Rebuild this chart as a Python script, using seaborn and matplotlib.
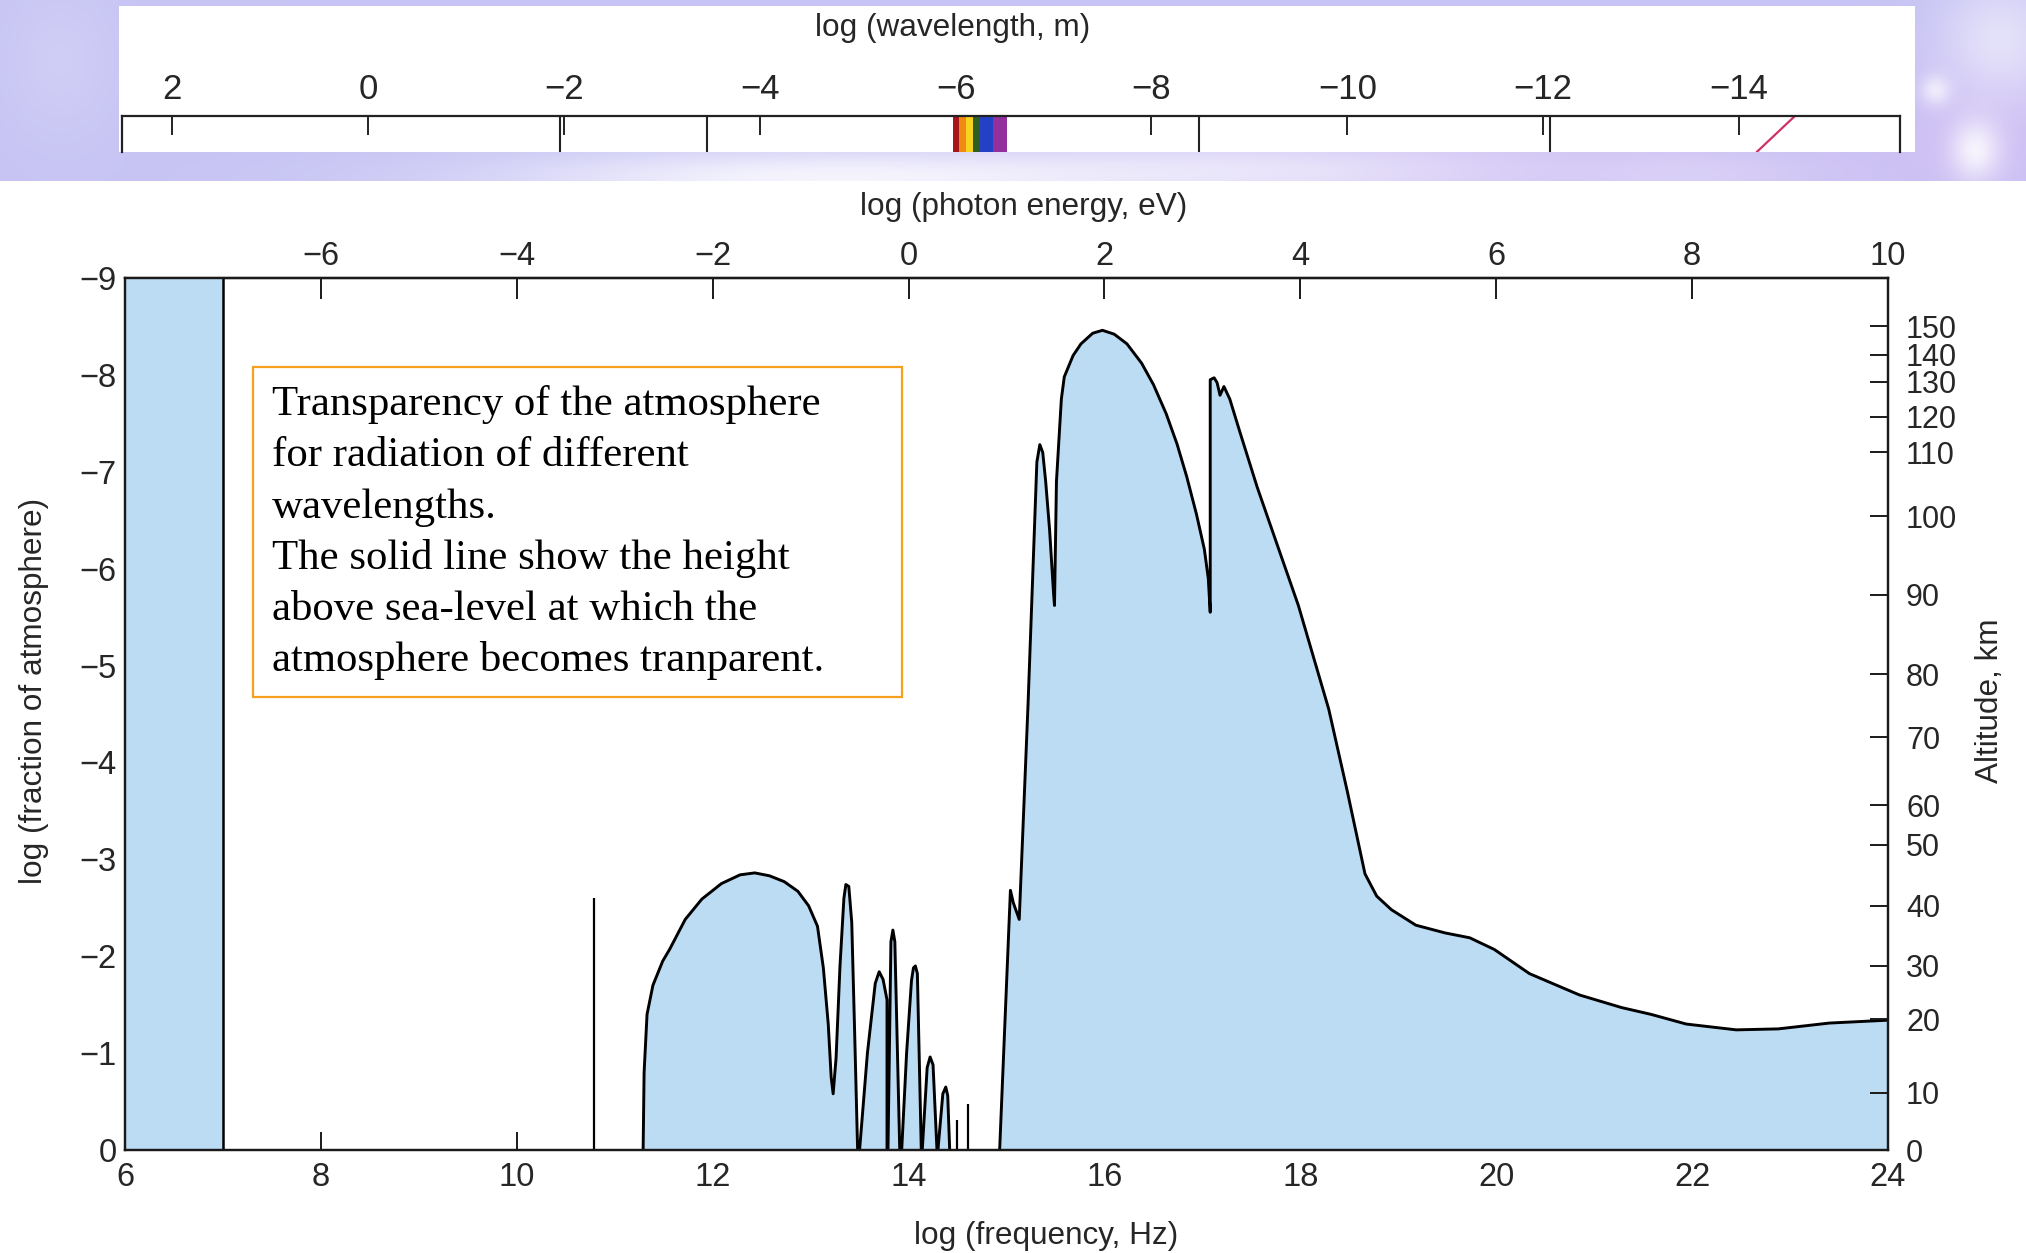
import numpy as np
import matplotlib
matplotlib.use("Agg")
import matplotlib.pyplot as plt
import seaborn as sns
from matplotlib.patches import Rectangle

# ---------------- data ----------------
freq_ticks = [6, 8, 10, 12, 14, 16, 18, 20, 22, 24]
logfrac_ticks = [0, -1, -2, -3, -4, -5, -6, -7, -8, -9]
ev_ticks = [-6, -4, -2, 0, 2, 4, 6, 8, 10]
ev_offset = 14.0
wavelength_ticks = [2, 0, -2, -4, -6, -8, -10, -12, -14]
wavelength_offset = 8.48

altitude_km = [0, 10, 20, 30, 40, 50, 60, 70, 80, 90, 100, 110, 120, 130, 140, 150]
altitude_logfrac = [0, -0.59, -1.35, -1.90, -2.52, -3.15, -3.56, -4.26, -4.91,
                    -5.73, -6.54, -7.20, -7.57, -7.93, -8.21, -8.50]

radio_freq = [6.0, 7.0]
radio_logfrac = [-9.0, -9.0]

spike_freq = [10.79, 14.49, 14.61]
spike_logfrac = [-2.6, -0.31, -0.47]

ir_freq = [11.29, 11.30, 11.33, 11.39, 11.49, 11.56, 11.72, 11.89, 12.09, 12.28, 12.43,
           12.58, 12.73, 12.87, 12.98, 13.07, 13.13, 13.18, 13.21, 13.23, 13.26, 13.30,
           13.34, 13.36, 13.39, 13.42, 13.45, 13.48,
           13.50, 13.58, 13.66, 13.70, 13.74, 13.78, 13.78,
           13.79, 13.82, 13.84, 13.86, 13.91,
           13.93, 13.98, 14.03, 14.05, 14.07, 14.09, 14.13,
           14.14, 14.19, 14.22, 14.25, 14.29,
           14.30, 14.35, 14.38, 14.40, 14.42]
ir_logfrac = [0, -0.8, -1.4, -1.7, -1.95, -2.07, -2.38, -2.59, -2.75, -2.84, -2.86,
              -2.83, -2.77, -2.67, -2.52, -2.31, -1.88, -1.3, -0.75, -0.58, -0.95, -1.9,
              -2.6, -2.74, -2.72, -2.35, -1.2, 0,
              0, -1.0, -1.72, -1.84, -1.76, -1.55, 0,
              0, -2.15, -2.27, -2.15, 0,
              0, -1.0, -1.75, -1.88, -1.9, -1.82, 0,
              0, -0.85, -0.96, -0.88, 0,
              0, -0.58, -0.65, -0.56, 0]

uv_freq = [14.93, 15.04, 15.07, 15.13, 15.22, 15.31, 15.34, 15.37, 15.40, 15.44, 15.48, 15.49,
           15.51, 15.56, 15.59, 15.68, 15.76, 15.88, 15.98, 16.10, 16.23, 16.38, 16.50,
           16.63, 16.74, 16.84, 16.94, 17.02, 17.06, 17.08, 17.08, 17.12, 17.15, 17.18,
           17.22, 17.28, 17.38, 17.56, 17.78, 17.98, 18.29, 18.48, 18.66, 18.78, 18.93,
           19.18, 19.48, 19.73, 19.98, 20.34, 20.85, 21.28, 21.58, 21.94, 22.45, 22.88,
           23.40, 24.00]
uv_logfrac = [0, -2.68, -2.55, -2.38, -4.6, -7.1, -7.28, -7.2, -6.9, -6.4, -5.75, -5.62,
              -6.9, -7.75, -7.98, -8.2, -8.32, -8.43, -8.46, -8.42, -8.32, -8.12, -7.9,
              -7.6, -7.29, -6.95, -6.56, -6.2, -5.9, -5.55, -7.95, -7.97, -7.92, -7.79,
              -7.88, -7.75, -7.42, -6.84, -6.2, -5.62, -4.55, -3.7, -2.85, -2.62, -2.48,
              -2.32, -2.24, -2.19, -2.07, -1.82, -1.60, -1.47, -1.40, -1.30, -1.24, -1.25,
              -1.31, -1.34]

band_boundary_freq = [10.44, 11.94, 16.97, 20.55]
rainbow_edges = [14.45, 14.51, 14.59, 14.66, 14.73, 14.86, 15.01]
rainbow_colors = ["#A3161A", "#F08A12", "#F7D21E", "#2F5E22", "#2440C4", "#93309E"]
gamma_line_freq = [23.05, 22.66]

note_lines = ["Transparency of the atmosphere",
              "for radiation of different",
              "wavelengths.",
              "The solid line show the height",
              "above sea-level at which the",
              "atmosphere becomes tranparent."]

# ---------------- style ----------------
sns.set_theme(style="white")
plt.rcParams["font.family"] = ["Liberation Sans", "DejaVu Sans"]
plt.rcParams["axes.unicode_minus"] = True

W, H = 2026, 1253
fig = plt.figure(figsize=(W / 100, H / 100), dpi=100)
fig.patch.set_facecolor("white")

def fx(px):
    return px / W

def fy(py):
    return 1 - py / H

# ---- decorative lavender band at top ----
ny, nx = 181, W
yy, xx = np.mgrid[0:ny, 0:nx].astype(float)
base = np.array([199, 196, 244]) / 255.0
img = np.ones((ny, nx, 3)) * base

def blob(cx, cy, sx, sy, amp):
    return amp * np.exp(-(((xx - cx) / sx) ** 2 + ((yy - cy) / sy) ** 2))

light = (blob(820, 178, 330, 30, 0.8) + blob(1280, 170, 260, 30, 0.45)
         + blob(60, 60, 60, 80, 0.15) + blob(2000, 40, 60, 60, 0.5)
         + blob(1975, 150, 25, 30, 0.8) + blob(1935, 90, 15, 15, 0.6)
         + blob(1700, 175, 120, 25, 0.2))
light = np.clip(light, 0, 0.95)
pink = blob(1500, 170, 500, 60, 0.35) + blob(1990, 120, 120, 80, 0.3)
img[..., 0] = img[..., 0] + pink * 0.08
img[..., 1] = img[..., 1] - pink * 0.04
img = img + (1 - img) * light[..., None]
img = np.clip(img, 0, 1)
bg_ax = fig.add_axes([0, fy(181), 1, 181 / H], zorder=0)
bg_ax.imshow(img, aspect="auto", extent=(0, W, ny, 0), interpolation="bilinear")
bg_ax.set_axis_off()

fig.add_artist(Rectangle((fx(119), fy(152)), (1915 - 119) / W, (152 - 6) / H,
                         transform=fig.transFigure, facecolor="white",
                         edgecolor="none", zorder=1))

# ---- wavelength strip ----
strip_top = 116
ax_s = fig.add_axes([fx(122), fy(152), (1900 - 122) / W, (152 - strip_top) / H], zorder=2)
px_per_unit = (1888 - 125) / 18.0
ax_s.set_xlim(6 + (122 - 125) / px_per_unit, 6 + (1900 - 125) / px_per_unit)
ax_s.set_ylim(0, 1)
ax_s.set_facecolor("white")
for side in ["top", "left", "right"]:
    ax_s.spines[side].set_visible(True)
    ax_s.spines[side].set_color("#222222")
    ax_s.spines[side].set_linewidth(1.6)
ax_s.spines["bottom"].set_visible(False)
for lo, hi, c in zip(rainbow_edges[:-1], rainbow_edges[1:], rainbow_colors):
    ax_s.axvspan(lo, hi, ymin=0, ymax=1, color=c, lw=0)
ax_s.vlines(band_boundary_freq, 0, 1, color="#222222", lw=1.5)
ax_s.plot(gamma_line_freq, [1, 0], color="#D0306A", lw=1.6)
ax_s.set_xticks([wavelength_offset - w for w in wavelength_ticks])
ax_s.set_xticklabels([f"{w}".replace("-", "\u2212") for w in wavelength_ticks])
ax_s.set_yticks([])
ax_s.tick_params(axis="x", bottom=False, top=True, labelbottom=False, labeltop=True,
                 direction="in", length=14, width=1.4, color="#222222",
                 labelsize=25, pad=7)
fig.text(fx(953), fy(28), "log (wavelength, m)", ha="center", va="center", fontsize=22.7)

# ---- main axes ----
ax = fig.add_axes([fx(125), fy(1150), (1888 - 125) / W, (1150 - 278) / H], zorder=1)
ax.set_facecolor("white")
ax.set_xlim(6, 24)
ax.set_ylim(0, -9)

fill_c = "#BCDCF4"
ax.fill_between(radio_freq, 0, radio_logfrac, color=fill_c, lw=0)
ax.vlines(radio_freq[-1], 0, radio_logfrac[-1], color="black", lw=1.8)
ax.fill_between(ir_freq, 0, ir_logfrac, color=fill_c, lw=0)
ax.fill_between(uv_freq, 0, uv_logfrac, color=fill_c, lw=0)
sns.lineplot(x=ir_freq, y=ir_logfrac, ax=ax, sort=False, estimator=None,
             color="black", lw=2.1)
sns.lineplot(x=uv_freq, y=uv_logfrac, ax=ax, sort=False, estimator=None,
             color="black", lw=2.1)
ax.vlines(spike_freq, 0, spike_logfrac, color="black", lw=1.6)

for s in ax.spines.values():
    s.set_visible(True)
    s.set_color("#1a1a1a")
    s.set_linewidth(1.6)

ax.set_xticks(freq_ticks)
ax.set_xticklabels([str(t) for t in freq_ticks])
ax.set_yticks(logfrac_ticks)
ax.set_yticklabels([f"{t}".replace("-", "\u2212") for t in logfrac_ticks])
ax.tick_params(axis="x", bottom=True, top=False, direction="in", length=13,
               width=1.4, color="#1a1a1a", labelsize=23.5, pad=9)
ax.tick_params(axis="y", left=True, right=False, direction="in", length=13,
               width=1.4, color="#1a1a1a", labelsize=23.5, pad=6)
ax.grid(False)
ax.set_xlabel("log (frequency, Hz)", fontsize=22.7)
ax.xaxis.set_label_coords((1046 - 125) / 1763, (1150 - 1236) / 872)
ax.xaxis.label.set_va("center")
ax.set_ylabel("log (fraction of atmosphere)", fontsize=22.7)
ax.yaxis.set_label_coords((34 - 125) / 1763, (1150 - 691) / 872)
ax.yaxis.label.set_va("center")

# top photon-energy axis
sec = ax.secondary_xaxis("top", functions=(lambda f: f - ev_offset, lambda e: e + ev_offset))
sec.set_xticks(ev_ticks)
sec.set_xticklabels([f"{t}".replace("-", "\u2212") for t in ev_ticks])
sec.tick_params(axis="x", direction="in", length=15, width=1.4, color="#1a1a1a",
                labelsize=23.5, pad=4.5)
sec.spines["top"].set_linewidth(1.6)
fig.text(fx(1024), fy(207), "log (photon energy, eV)", ha="center", va="center",
         fontsize=22.7)

# right altitude axis
ax2 = ax.twinx()
ax2.set_ylim(0, -9)
ax2.set_yticks(altitude_logfrac)
ax2.set_yticklabels([str(a) for a in altitude_km])
ax2.tick_params(axis="y", right=True, left=False, direction="in", length=13,
                width=1.4, color="#1a1a1a", labelsize=22, pad=13)
ax2.grid(False)
for s in ax2.spines.values():
    s.set_linewidth(1.6)
    s.set_color("#1a1a1a")
ax2.set_ylabel("Altitude, km", fontsize=22.7, rotation=90)
ax2.yaxis.set_label_coords((1990 - 125) / 1763, (1150 - 701) / 872)
ax2.yaxis.label.set_va("center")

# ---- annotation box ----
fig.add_artist(Rectangle((fx(252.5), fy(696.7)), (902 - 252.5) / W, (696.7 - 366.7) / H,
                         transform=fig.transFigure, facecolor="white",
                         edgecolor="#F5A01E", lw=1.6, zorder=10))
for i, line in enumerate(note_lines):
    fig.text(fx(272), fy(415 + 51.3 * i), line, ha="left", va="baseline",
             fontsize=30.8, family=["Liberation Serif", "DejaVu Serif"], color="black",
             zorder=11)

fig.savefig("out.png", dpi=100)
